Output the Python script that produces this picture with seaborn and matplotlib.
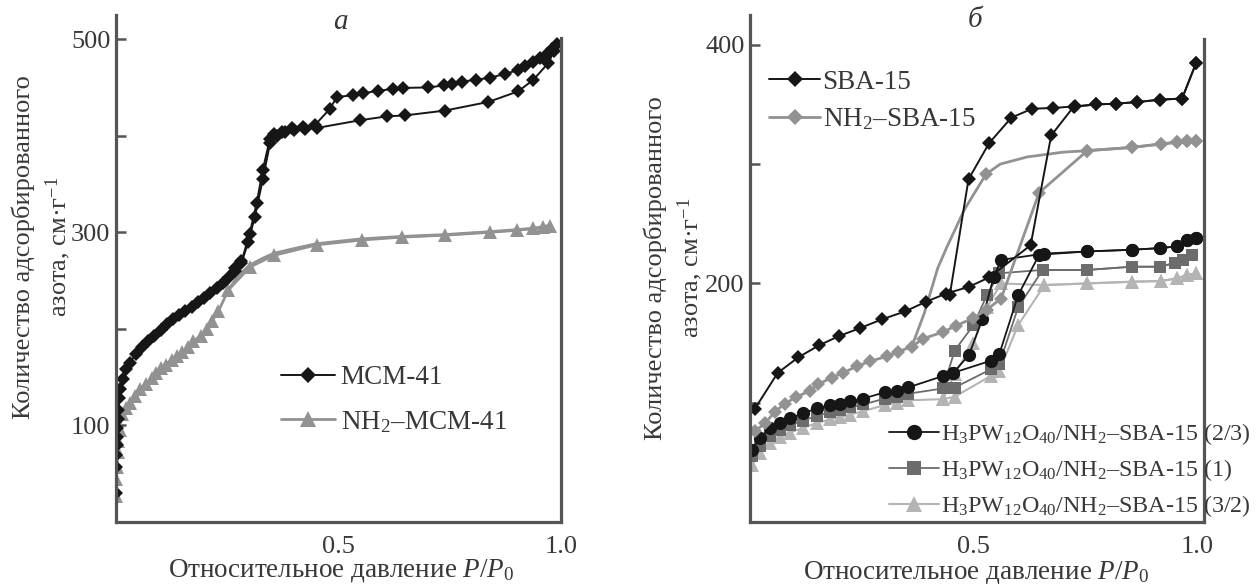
import matplotlib
matplotlib.use("Agg")
import matplotlib.pyplot as plt
import seaborn as sns
from matplotlib.lines import Line2D

# ---------------- data: panel a ----------------
mcm41_ads_x = [0.000, 0.001, 0.001, 0.002, 0.002, 0.003, 0.004, 0.005, 0.007, 0.010, 0.015, 0.022,
               0.031, 0.045, 0.058, 0.072, 0.086, 0.100, 0.114, 0.128, 0.142, 0.156, 0.170, 0.184,
               0.198, 0.212, 0.226, 0.240, 0.254, 0.268, 0.282, 0.297, 0.312, 0.330, 0.346, 0.362,
               0.380, 0.400, 0.425, 0.451, 0.548, 0.608, 0.649, 0.739, 0.837, 0.904, 0.938, 0.971, 0.985]
mcm41_ads_y = [30, 57, 69, 80, 88, 97, 107, 116, 128, 138, 148, 158,
               165, 174, 181, 187, 193, 199, 205, 210, 214, 219, 223, 228,
               232, 237, 242, 248, 254, 260, 268, 290, 316, 355, 392, 400,
               404, 406, 407, 408, 416, 420, 421, 426, 435, 446, 458, 475, 488]
mcm41_des_x = [0.990, 0.979, 0.968, 0.952, 0.938, 0.920, 0.904, 0.874, 0.840, 0.810, 0.777, 0.754,
               0.736, 0.702, 0.646, 0.623, 0.589, 0.556, 0.533, 0.496, 0.481, 0.447, 0.421, 0.395,
               0.372, 0.354, 0.346, 0.330, 0.316, 0.300, 0.282, 0.268]
mcm41_des_y = [495, 490, 485, 480, 476, 472, 468, 464, 460, 458, 456, 454,
               452, 450, 449.5, 448.5, 446.5, 444, 442, 440, 428, 411, 409, 407.5,
               404, 402, 397, 365, 330, 298, 270, 263]

nh2mcm_ads_x = [0.000, 0.001, 0.002, 0.004, 0.005, 0.008, 0.013, 0.022, 0.031, 0.042, 0.054, 0.067,
                0.080, 0.091, 0.102, 0.113, 0.125, 0.137, 0.148, 0.161, 0.174, 0.190, 0.205, 0.215,
                0.230, 0.252, 0.301, 0.354, 0.451, 0.552, 0.642, 0.739, 0.840, 0.900, 0.937, 0.960, 0.975]
nh2mcm_ads_y = [27, 45, 57, 72, 84, 95, 112, 118, 123, 130, 138, 143,
                149, 154, 159, 163, 168, 172, 176, 181, 187, 193, 200, 208,
                218, 240, 264, 276, 287, 292, 295, 297, 300, 302, 304, 305, 307]
nh2mcm_des_x = [0.975, 0.940, 0.840, 0.740, 0.640, 0.550, 0.450, 0.400, 0.354, 0.330, 0.301, 0.275, 0.252]
nh2mcm_des_y = [307, 304, 300.5, 297.5, 295.5, 293, 288, 283, 278, 273, 266, 255, 240]

# ---------------- data: panel б ----------------
sba_ads_x = [0.011, 0.062, 0.108, 0.154, 0.200, 0.246, 0.296, 0.347, 0.393, 0.439, 0.489, 0.535,
             0.628, 0.674, 0.724, 0.774, 0.820, 0.866, 0.917, 0.967, 0.998]
sba_ads_y = [95, 125, 138, 148, 156, 162.5, 170, 176.5, 184.5, 191.5, 197, 205,
             232, 324, 348, 350, 350.7, 352, 354, 355, 384.5]
sba_des_x = [0.998, 0.967, 0.917, 0.866, 0.820, 0.774, 0.728, 0.678, 0.632, 0.585, 0.535, 0.489, 0.447]
sba_des_y = [384.5, 355, 354, 352, 350.7, 350, 348.5, 347, 346.5, 339, 317.5, 287.3, 190]

nh2sba_ads_x = [0.011, 0.034, 0.056, 0.078, 0.104, 0.134, 0.153, 0.183, 0.209, 0.239, 0.268, 0.306,
                0.332, 0.362, 0.388, 0.432, 0.462, 0.500, 0.530, 0.562, 0.647, 0.755, 0.855, 0.920,
                0.955, 0.978, 0.998]
nh2sba_ads_y = [76, 83, 92.4, 99.3, 104.7, 110.1, 115.6, 121, 125.1, 130.6, 134.7, 138.8,
                142.9, 147, 153.8, 159.2, 164.7, 171, 178, 187.3, 276, 311.3, 314, 316.9,
                318.3, 319, 319.7]
nh2sba_des_x = [0.998, 0.978, 0.955, 0.920, 0.855, 0.755, 0.700, 0.620, 0.560, 0.528, 0.480, 0.440,
                0.420, 0.390, 0.362]
nh2sba_des_y = [319.7, 319, 318.3, 316.9, 314, 311.3, 310, 306, 300, 291.5, 262, 230,
                212.7, 175, 147]
nh2sba_des_marks = [0, 1, 2, 3, 4, 5, 9]

pw23_ads_x = [0.004, 0.022, 0.045, 0.067, 0.089, 0.119, 0.149, 0.179, 0.201, 0.224, 0.253, 0.302,
              0.328, 0.354, 0.432, 0.455, 0.539, 0.558, 0.600, 0.647, 0.755, 0.855, 0.917, 0.955,
              0.978, 0.998]
pw23_ads_y = [60, 70.6, 78.8, 82.9, 87, 91.1, 95.2, 97.9, 99.3, 101.1, 103.4, 108.8,
              110.1, 112.8, 122.4, 125.1, 135.2, 140.8, 190, 224, 226.8, 228.2, 229.6, 231,
              236.6, 238]
pw23_des_x = [0.998, 0.978, 0.955, 0.917, 0.855, 0.755, 0.658, 0.562, 0.545, 0.520, 0.490, 0.455]
pw23_des_y = [238, 236.6, 231, 229.6, 228.2, 226.8, 225, 219.7, 205, 170, 140, 125.1]

pw1_ads_x = [0.004, 0.022, 0.045, 0.067, 0.089, 0.119, 0.149, 0.179, 0.201, 0.224, 0.253, 0.302,
             0.328, 0.354, 0.432, 0.458, 0.539, 0.558, 0.600, 0.655, 0.755, 0.855, 0.917, 0.950,
             0.970, 0.990]
pw1_ads_y = [55, 64, 72, 77, 81, 85, 89, 92, 94, 96, 98.5, 103.5,
             105, 107.5, 112, 112.7, 128, 132.4, 180, 211.3, 211.3, 214, 214, 217,
             219.7, 224]
pw1_des_x = [0.990, 0.970, 0.950, 0.917, 0.855, 0.755, 0.655, 0.558, 0.530, 0.500, 0.458, 0.432]
pw1_des_y = [224, 219.7, 217, 214, 214, 211.3, 211.3, 208.5, 190, 165, 143.7, 112]

pw32_ads_x = [0.004, 0.022, 0.045, 0.067, 0.089, 0.119, 0.149, 0.179, 0.201, 0.224, 0.253, 0.302,
              0.328, 0.354, 0.432, 0.458, 0.539, 0.558, 0.600, 0.659, 0.755, 0.855, 0.920, 0.955,
              0.978, 0.998]
pw32_ads_y = [48, 58, 66, 71, 75, 79, 83, 86, 88, 90, 93, 98,
              100, 102, 103, 105, 122.5, 126.8, 165, 198.6, 200, 201.4, 202, 204.2,
              207, 208.5]
pw32_des_x = [0.998, 0.978, 0.955, 0.920, 0.855, 0.755, 0.659, 0.562, 0.530, 0.500, 0.458, 0.432]
pw32_des_y = [208.5, 207, 204.2, 202, 201.4, 200, 198.6, 200, 180, 150, 124, 103]

labels_a = ['MCM-41', 'NH$_2$–MCM-41']
labels_b1 = ['SBA-15', 'NH$_2$–SBA-15']
labels_b2 = ['H$_3$PW$_{12}$O$_{40}$/NH$_2$–SBA-15 (2/3)',
             'H$_3$PW$_{12}$O$_{40}$/NH$_2$–SBA-15 (1)',
             'H$_3$PW$_{12}$O$_{40}$/NH$_2$–SBA-15 (3/2)']
yticks_a = [100, 200, 300, 400, 500]
yticklabels_a = ['100', '', '300', '', '500']
yticks_b = [100, 200, 300, 400]
yticklabels_b = ['', '200', '', '400']
xticks = [0.5, 1.0]
xticklabels = ['0.5', '1.0']

# ---------------- style ----------------
sns.set_theme(style="white")
plt.rcParams['font.family'] = ['Liberation Serif', 'DejaVu Serif']
plt.rcParams['mathtext.fontset'] = 'custom'
plt.rcParams['mathtext.rm'] = 'Liberation Serif'
plt.rcParams['mathtext.it'] = 'Liberation Serif:italic'
plt.rcParams['mathtext.default'] = 'regular'

TC = '#383838'
SP = '#555555'
C_BLACK = '#161616'
C_GRAY = '#929292'
C_PW1 = '#6c6c6c'
C_PW32 = '#b4b4b4'

FS_TICK = 19
FS_LAB = 19
FS_LEG = 19.5
FS_LEG2 = 17.3

W, H = 1256, 584
fig = plt.figure(figsize=(W / 100, H / 100), dpi=100)


def px_axes(l, t, r, b):
    return fig.add_axes([l / W, 1 - b / H, (r - l) / W, (b - t) / H])


axA = px_axes(116, 15, 561, 522)
axB = px_axes(750, 15, 1204, 522)


def branch(ax, x, y, color, marker, ms, lw, markevery=None):
    kw = dict(marker=marker, markersize=ms, markeredgewidth=0, markerfacecolor=color)
    if marker is None:
        kw = dict(marker='')
    if markevery is not None:
        kw['markevery'] = markevery
    sns.lineplot(x=x, y=y, ax=ax, sort=False, estimator=None, color=color,
                 linewidth=lw, legend=False, **kw)


# panel a
branch(axA, nh2mcm_des_x, nh2mcm_des_y, C_GRAY, None, 0, 2.2)
branch(axA, nh2mcm_ads_x, nh2mcm_ads_y, C_GRAY, '^', 10, 2.0)
branch(axA, mcm41_ads_x, mcm41_ads_y, C_BLACK, 'D', 7.5, 1.4)
branch(axA, mcm41_des_x, mcm41_des_y, C_BLACK, 'D', 7.5, 1.4)

# panel b
branch(axB, pw32_ads_x, pw32_ads_y, C_PW32, '^', 10, 1.5)
branch(axB, pw32_des_x, pw32_des_y, C_PW32, '^', 10, 1.5)
branch(axB, pw1_ads_x, pw1_ads_y, C_PW1, 's', 8.5, 1.3)
branch(axB, pw1_des_x, pw1_des_y, C_PW1, 's', 8.5, 1.3)
branch(axB, pw23_ads_x, pw23_ads_y, C_BLACK, 'o', 9.5, 1.3)
branch(axB, pw23_des_x, pw23_des_y, C_BLACK, 'o', 9.5, 1.3)
branch(axB, nh2sba_ads_x, nh2sba_ads_y, C_GRAY, 'D', 7.5, 2.0)
branch(axB, nh2sba_des_x, nh2sba_des_y, C_GRAY, 'D', 7.5, 2.0, markevery=nh2sba_des_marks)
branch(axB, sba_ads_x, sba_ads_y, C_BLACK, 'D', 7.5, 1.4)
branch(axB, sba_des_x, sba_des_y, C_BLACK, 'D', 7.5, 1.4)

# axes styling
for ax in (axA, axB):
    ax.set_facecolor('none')
    ax.grid(False)
    ax.spines['top'].set_visible(False)
    for s in ('left', 'bottom', 'right'):
        ax.spines[s].set_visible(True)
        ax.spines[s].set_color(SP)
        ax.spines[s].set_linewidth(2.3)
    ax.tick_params(axis='y', left=True, right=False, direction='in', length=7, width=1.8,
                   color=SP, labelsize=FS_TICK, labelcolor=TC, pad=4)
    ax.tick_params(axis='x', bottom=True, length=0, labelsize=FS_TICK, labelcolor=TC, pad=10)
    ax.set_xlabel('')
    ax.set_ylabel('')
    ax.set_xticks(xticks)
    ax.set_xticklabels(xticklabels)

axA.set_xlim(0, 1.0)
axA.set_ylim(0, 525)
axA.set_yticks(yticks_a)
axA.set_yticklabels(yticklabels_a)
axA.spines['right'].set_bounds(0, 501)

axB.set_xlim(0, 1.016)
axB.set_ylim(0, 425)
axB.set_yticks(yticks_b)
axB.set_yticklabels(yticklabels_b)
axB.spines['right'].set_bounds(0, 405)

# legends
hA = [Line2D([], [], color=C_BLACK, marker='D', ms=8, lw=1.4, mew=0),
      Line2D([], [], color=C_GRAY, marker='^', ms=11, lw=2.0, mew=0)]
axA.legend(hA, labels_a, loc='center left', bbox_to_anchor=(281 / W, 1 - 400 / H),
           bbox_transform=fig.transFigure, frameon=False, fontsize=FS_LEG, handlelength=2.0,
           handletextpad=0.2, labelspacing=0.68, borderpad=0, borderaxespad=0, labelcolor=TC)

hB1 = [Line2D([], [], color=C_BLACK, marker='D', ms=8, lw=1.4, mew=0),
       Line2D([], [], color=C_GRAY, marker='D', ms=8, lw=2.0, mew=0)]
legB1 = axB.legend(hB1, labels_b1, loc='center left', bbox_to_anchor=(769 / W, 1 - 101 / H),
                   bbox_transform=fig.transFigure, frameon=False, fontsize=FS_LEG, handlelength=1.9,
                   handletextpad=0.08, labelspacing=0.42, borderpad=0, borderaxespad=0, labelcolor=TC)
axB.add_artist(legB1)

hB2 = [Line2D([], [], color=C_BLACK, marker='o', ms=11, lw=1.3, mew=0),
       Line2D([], [], color=C_PW1, marker='s', ms=9.5, lw=1.3, mew=0),
       Line2D([], [], color=C_PW32, marker='^', ms=11, lw=1.5, mew=0)]
axB.legend(hB2, labels_b2, loc='center left', bbox_to_anchor=(889 / W, 1 - 470 / H),
           bbox_transform=fig.transFigure, frameon=False, fontsize=FS_LEG2, handlelength=2.1,
           handletextpad=0.08, labelspacing=0.42, borderpad=0, borderaxespad=0, labelcolor=TC)

# texts
fig.text(340 / W, 1 - 22 / H, 'а', fontsize=21, style='italic', ha='center', va='center', color=TC)
fig.text(975 / W, 1 - 20 / H, 'б', fontsize=21, style='italic', ha='center', va='center', color=TC)

ylabel = 'Количество адсорбированного\nазота, см·г$^{-1}$'
fig.text(42 / W, 1 - 247 / H, ylabel, rotation=90, ha='center', va='center',
         multialignment='center', fontsize=FS_LAB, color=TC, linespacing=1.35)
fig.text(674 / W, 1 - 268 / H, ylabel, rotation=90, ha='center', va='center',
         multialignment='center', fontsize=FS_LAB, color=TC, linespacing=1.35)

xlabel = 'Относительное давление $\\mathit{P}/\\mathit{P}_0$'
fig.text(341 / W, 1 - 577 / H, xlabel, ha='center', va='baseline', fontsize=FS_LAB + 0.5, color=TC)
fig.text(976 / W, 1 - 578 / H, xlabel, ha='center', va='baseline', fontsize=FS_LAB + 0.5, color=TC)

fig.savefig('out.png', dpi=100, facecolor='white')
